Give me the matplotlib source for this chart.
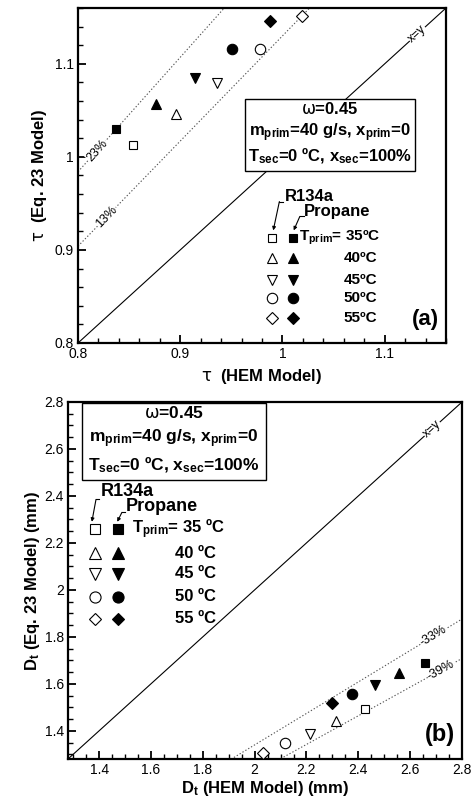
import numpy as np
import matplotlib
matplotlib.use("Agg")
import matplotlib.pyplot as plt
from matplotlib.ticker import MultipleLocator, FuncFormatter
from matplotlib.patches import Rectangle

plt.rcParams['font.family'] = ['Liberation Sans', 'DejaVu Sans']
plt.rcParams['mathtext.fontset'] = 'custom'
plt.rcParams['mathtext.rm'] = 'DejaVu Sans'
plt.rcParams['mathtext.bf'] = 'Liberation Sans:bold'
plt.rcParams['mathtext.it'] = 'Liberation Sans:italic'

# ---------------- data ----------------
temps = ["35", "40", "45", "50", "55"]
markers = ["s", "^", "v", "o", "D"]

# panel (a): tau
tau_hem_r134a = [0.854, 0.896, 0.936, 0.978, 1.019]
tau_eq23_r134a = [1.013, 1.046, 1.079, 1.116, 1.151]
tau_hem_propane = [0.837, 0.876, 0.914, 0.951, 0.988]
tau_eq23_propane = [1.030, 1.057, 1.085, 1.116, 1.146]
bands_a = [0.23, 0.13]
band_labels_a = ["23%", "13%"]

# panel (b): throat diameter
dt_hem_r134a = [2.427, 2.315, 2.212, 2.119, 2.031]
dt_eq23_r134a = [1.494, 1.443, 1.387, 1.349, 1.306]
dt_hem_propane = [2.658, 2.558, 2.465, 2.377, 2.300]
dt_eq23_propane = [1.689, 1.647, 1.596, 1.557, 1.519]
bands_b = [-0.33, -0.39]
band_labels_b = ["-33%", "-39%"]

fig = plt.figure(figsize=(4.72, 7.98), dpi=100)
ax1 = fig.add_axes([78/472, 1-343/798, 368/472, 335/798])
ax2 = fig.add_axes([68/472, 1-759/798, 394/472, 357/798])

def fmt(v, pos):
    return "%g" % round(v, 3)

def style(ax, major, minor):
    for s in ax.spines.values():
        s.set_linewidth(1.6)
    ax.xaxis.set_major_locator(MultipleLocator(major))
    ax.yaxis.set_major_locator(MultipleLocator(major))
    ax.xaxis.set_minor_locator(MultipleLocator(minor))
    ax.yaxis.set_minor_locator(MultipleLocator(minor))
    ax.xaxis.set_major_formatter(FuncFormatter(fmt))
    ax.yaxis.set_major_formatter(FuncFormatter(fmt))
    ax.tick_params(which='major', direction='in', length=6, width=1.3, labelsize=10, pad=3)
    ax.tick_params(which='minor', direction='in', length=3.5, width=1.0)
    ax.tick_params(top=False, right=False, which='both')

def band_text(ax, x, y, txt, slope, size=9):
    ax.text(x, y, txt, fontsize=size, ha='center', va='center', color='black',
            rotation=np.degrees(np.arctan(slope)), transform_rotates_text=True,
            rotation_mode='anchor',
            bbox=dict(facecolor='white', edgecolor='none', pad=0.3), zorder=4)

# ---------------- panel (a) ----------------
lo, hi = 0.8, 1.16
ax1.set_xlim(lo, hi); ax1.set_ylim(lo, hi)
style(ax1, 0.1, 0.02)
xx = np.array([lo, hi])
ax1.plot(xx, xx, color='black', lw=0.8, zorder=2)
for b in bands_a:
    ax1.plot(xx, (1+b)*xx, color='#555555', lw=0.8, ls=(0, (1.2, 1.8)), zorder=2)
band_text(ax1, 0.8186, 1.23*0.8186, band_labels_a[0], 1.23)
band_text(ax1, 0.828, 1.13*0.828, band_labels_a[1], 1.13)
band_text(ax1, 1.132, 1.132, "x=y", 1.0)

for i, m in enumerate(markers):
    ms = 6 if m in ('s', 'D') else 7.5
    ax1.plot(tau_hem_r134a[i], tau_eq23_r134a[i], marker=m, ms=ms, mfc='white',
             mec='black', mew=0.8, ls='none', zorder=5)
    ax1.plot(tau_hem_propane[i], tau_eq23_propane[i], marker=m, ms=ms, mfc='black',
             mec='black', mew=0.8, ls='none', zorder=5)

ax1.add_patch(Rectangle((0.963, 0.985), 0.167, 0.077, facecolor='white',
                        edgecolor='black', lw=1.0, zorder=6))
cx = 1.0466
ax1.text(cx, 1.051, r"$\mathrm{\omega}$=0.45", ha='center', va='center', fontsize=12, fontweight='bold', zorder=7)
ax1.text(cx, 1.026, r"m$_{\mathbf{prim}}$=40 g/s, x$_{\mathbf{prim}}$=0", ha='center', va='center',
         fontsize=12, fontweight='bold', zorder=7)
ax1.text(cx, 1.001, r"T$_{\mathbf{sec}}$=0 ºC, x$_{\mathbf{sec}}$=100%", ha='center', va='center',
         fontsize=12, fontweight='bold', zorder=7)

# legend (a)
rows_a = [0.913, 0.891, 0.868, 0.848, 0.827]
for i, m in enumerate(markers):
    ms = 6 if m in ('s', 'D') else 7.5
    ax1.plot(0.990, rows_a[i], marker=m, ms=ms, mfc='white', mec='black', mew=0.8, ls='none')
    ax1.plot(1.010, rows_a[i], marker=m, ms=ms, mfc='black', mec='black', mew=0.8, ls='none')
    if i == 0:
        ax1.text(1.016, rows_a[i], r"T$_{\mathbf{prim}}$= " + temps[i] + "ºC", ha='left', va='center',
                 fontsize=11, fontweight='bold')
    else:
        ax1.text(1.093, rows_a[i], temps[i] + "ºC", ha='right', va='center',
                 fontsize=11, fontweight='bold')
ax1.text(1.002, 0.957, "R134a", ha='left', va='center', fontsize=12, fontweight='bold')
ax1.text(1.021, 0.941, "Propane", ha='left', va='center', fontsize=12, fontweight='bold')
ax1.plot([1.001, 0.997], [0.952, 0.952], color='black', lw=0.8)
ax1.annotate("", xy=(0.991, 0.921), xytext=(0.997, 0.952),
             arrowprops=dict(arrowstyle='-|>', mutation_scale=5, lw=0.8, color='black',
                             shrinkA=0, shrinkB=0))
ax1.plot([1.021, 1.017], [0.936, 0.936], color='black', lw=0.8)
ax1.annotate("", xy=(1.011, 0.921), xytext=(1.017, 0.936),
             arrowprops=dict(arrowstyle='-|>', mutation_scale=5, lw=0.8, color='black',
                             shrinkA=0, shrinkB=0))
ax1.text(1.153, 0.825, "(a)", ha='right', va='center', fontsize=16, fontweight='bold')

ax1.set_xlabel(r"$\mathrm{\tau}$  (HEM Model)", fontsize=12, fontweight='bold', labelpad=4)
ax1.set_ylabel(r"$\mathrm{\tau}$  (Eq. 23 Model)", fontsize=12, fontweight='bold', labelpad=4)

# ---------------- panel (b) ----------------
lo, hi = 1.28, 2.8
ax2.set_xlim(lo, hi); ax2.set_ylim(lo, hi)
style(ax2, 0.2, 0.05)
xx = np.array([lo, hi])
ax2.plot(xx, xx, color='black', lw=0.8, zorder=2)
for b in bands_b:
    ax2.plot(xx, (1+b)*xx, color='#555555', lw=0.8, ls=(0, (1.2, 1.8)), zorder=2)
band_text(ax2, 2.69, 0.67*2.69, band_labels_b[0], 0.67)
band_text(ax2, 2.72, 0.61*2.72, band_labels_b[1], 0.61)
band_text(ax2, 2.685, 2.685, "x=y", 1.0)

for i, m in enumerate(markers):
    ms = 6 if m in ('s', 'D') else 7.5
    ax2.plot(dt_hem_r134a[i], dt_eq23_r134a[i], marker=m, ms=ms, mfc='white',
             mec='black', mew=0.8, ls='none', zorder=5, clip_on=False)
    ax2.plot(dt_hem_propane[i], dt_eq23_propane[i], marker=m, ms=ms, mfc='black',
             mec='black', mew=0.8, ls='none', zorder=5)

ax2.add_patch(Rectangle((1.335, 2.468), 0.707, 0.328, facecolor='white',
                        edgecolor='black', lw=1.0, zorder=6))
cx = 1.688
ax2.text(cx, 2.753, r"$\mathrm{\omega}$=0.45", ha='center', va='center', fontsize=12.5, fontweight='bold', zorder=7)
ax2.text(cx, 2.643, r"m$_{\mathbf{prim}}$=40 g/s, x$_{\mathbf{prim}}$=0", ha='center', va='center',
         fontsize=12.5, fontweight='bold', zorder=7)
ax2.text(cx, 2.532, r"T$_{\mathbf{sec}}$=0 ºC, x$_{\mathbf{sec}}$=100%", ha='center', va='center',
         fontsize=12.5, fontweight='bold', zorder=7)

rows_b = [2.260, 2.157, 2.068, 1.970, 1.877]
for i, m in enumerate(markers):
    ms = 6.5 if m in ('s', 'D') else 8
    ax2.plot(1.385, rows_b[i], marker=m, ms=ms, mfc='white', mec='black', mew=0.8, ls='none')
    ax2.plot(1.473, rows_b[i], marker=m, ms=ms, mfc='black', mec='black', mew=0.8, ls='none')
    if i == 0:
        ax2.text(1.527, rows_b[i], r"T$_{\mathbf{prim}}$= " + temps[i] + " ºC", ha='left', va='center',
                 fontsize=12, fontweight='bold')
    else:
        ax2.text(1.85, rows_b[i], temps[i] + " ºC", ha='right', va='center',
                 fontsize=12, fontweight='bold')
ax2.text(1.408, 2.417, "R134a", ha='left', va='center', fontsize=13, fontweight='bold')
ax2.text(1.504, 2.353, "Propane", ha='left', va='center', fontsize=13, fontweight='bold')
ax2.plot([1.40, 1.388], [2.385, 2.385], color='black', lw=0.8)
ax2.annotate("", xy=(1.372, 2.29), xytext=(1.388, 2.385),
             arrowprops=dict(arrowstyle='-|>', mutation_scale=5, lw=0.8, color='black',
                             shrinkA=0, shrinkB=0))
ax2.plot([1.50, 1.488], [2.33, 2.33], color='black', lw=0.8)
ax2.annotate("", xy=(1.470, 2.29), xytext=(1.488, 2.33),
             arrowprops=dict(arrowstyle='-|>', mutation_scale=5, lw=0.8, color='black',
                             shrinkA=0, shrinkB=0))
ax2.text(2.715, 1.383, "(b)", ha='center', va='center', fontsize=17, fontweight='bold')

ax2.set_xlabel(r"D$_{\mathbf{t}}$ (HEM Model) (mm)", fontsize=12, fontweight='bold', labelpad=1)
ax2.set_ylabel(r"D$_{\mathbf{t}}$ (Eq. 23 Model) (mm)", fontsize=12, fontweight='bold', labelpad=2)

fig.savefig("out.png", dpi=100)
